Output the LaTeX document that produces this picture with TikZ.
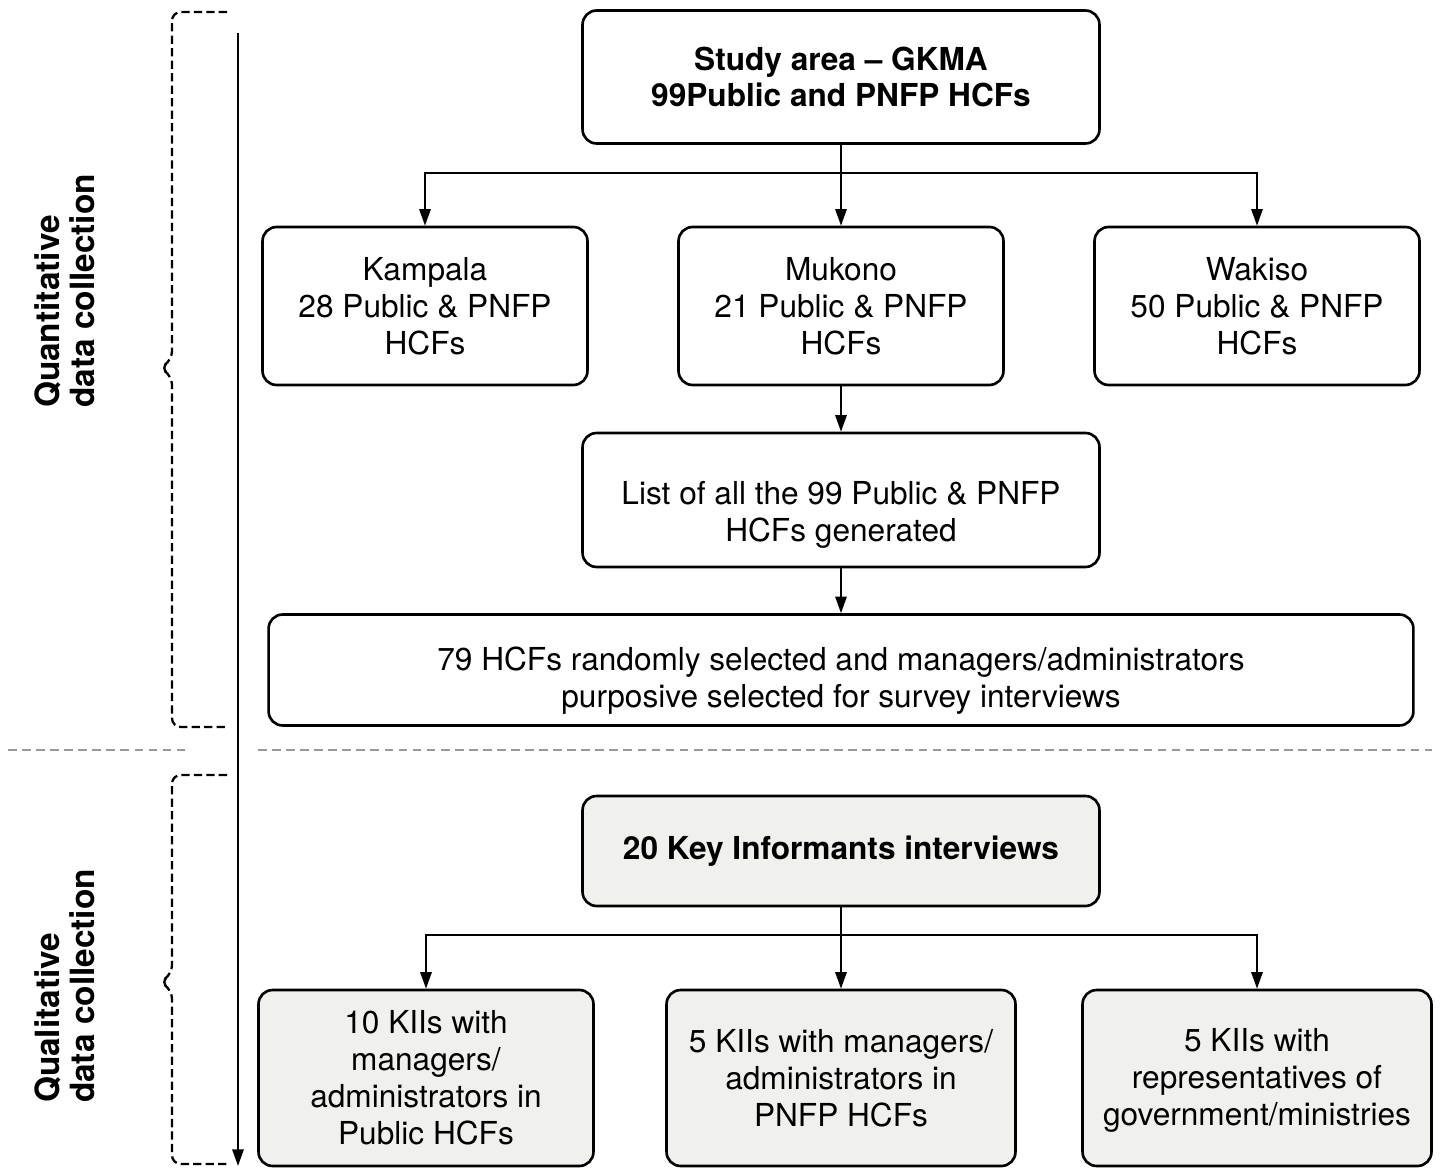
\documentclass[tikz,border=0pt]{standalone}
\usepackage{fontspec}
\setmainfont{TeX Gyre Heros}
\usetikzlibrary{arrows.meta,positioning}
\definecolor{boxgray}{RGB}{240,240,238}
\newcommand{\boxfont}{\fontsize{18}{21}\selectfont}

\begin{document}
\begin{tikzpicture}[x=0.02cm, y=0.02cm]
\tikzstyle{every node}+=[inner sep=0pt]
\tikzstyle{box}=[draw=black, line width=1.5pt, rounded corners=8pt, align=center, font=\boxfont]
\tikzstyle{kii}=[box, fill=boxgray]
\tikzstyle{link}=[black, line width=1.1pt, -{Triangle[length=9.5pt,width=6.5pt]}]
\tikzstyle{brk}=[black, line width=1.3pt, dash pattern=on 4.7pt off 2.4pt, rounded corners=5pt]
\tikzstyle{sep}=[black!40, line width=1.3pt, dash pattern=on 5pt off 3pt]
\tikzstyle{side}=[rotate=90, align=left, font=\fontsize{19}{20}\selectfont\bfseries]
\useasboundingbox (0,0) rectangle (1440,-1168);
% quantitative part
\node[box, minimum width=10.34cm, minimum height=2.66cm, font=\boxfont\bfseries] (area) at (841,-77) {Study area -- GKMA\\99Public and PNFP HCFs};
\node[box, minimum width=6.5cm, minimum height=3.16cm] (kampala) at (425,-306) {Kampala\\28 Public \& PNFP\\HCFs};
\node[box, minimum width=6.5cm, minimum height=3.16cm] (mukono) at (841,-306) {Mukono\\21 Public \& PNFP\\HCFs};
\node[box, minimum width=6.5cm, minimum height=3.16cm] (wakiso) at (1257,-306) {Wakiso\\50 Public \& PNFP\\HCFs};
\node[box, minimum width=10.34cm, minimum height=2.68cm] (list) at (841,-500) {\rule{0pt}{30pt}List of all the 99 Public \& PNFP\\HCFs generated};
\node[box, minimum width=22.9cm, minimum height=2.22cm] (survey) at (841,-670) {\rule{0pt}{26pt}79 HCFs randomly selected and managers/administrators\\purposive selected for survey interviews};
% qualitative part
\node[kii, minimum width=10.34cm, minimum height=2.2cm, font=\boxfont\bfseries] (ki) at (841,-851) {20 Key Informants interviews};
\node[kii, minimum width=6.7cm, minimum height=3.52cm] (kiipublic) at (426,-1078) {10 KIIs with\\managers/\\administrators in\\Public HCFs};
\node[kii, minimum width=6.98cm, minimum height=3.52cm] (kiipnfp) at (841,-1078) {5 KIIs with managers/\\administrators in\\PNFP HCFs};
\node[kii, minimum width=6.98cm, minimum height=3.52cm] (kiigov) at (1257,-1078) {\rule{0pt}{16pt}5 KIIs with\\representatives of\\government/ministries};
% side labels
\node[side] (quant) at (65,-291) {Quantitative\\data collection};
\node[side] (qual) at (65,-986) {Qualitative\\data collection};
% connectors
\coordinate (split1) at (841,-173);
\coordinate (split2) at (841,-935);
\draw[link] (area) -- (mukono);
\draw[link] (split1) -| (kampala);
\draw[link] (split1) -| (wakiso);
\draw[link] (mukono) -- (list);
\draw[link] (list) -- (survey);
\draw[link] (ki) -- (kiipnfp);
\draw[link] (split2) -| (kiipublic);
\draw[link] (split2) -| (kiigov);
% time line
\coordinate (tstart) at (238,-33);
\coordinate (tend) at (238,-1166);
\draw[link] (tstart) -- (tend);
% brackets
\draw[brk] (227,-12) -| (172,-360) -- (160,-368) -- (172,-376) |- (227,-727);
\draw[brk] (227,-775) -| (172,-974) -- (160,-982) -- (172,-990) |- (227,-1164);
% separator
\draw[sep] (8,-750) -- (187,-750);
\draw[sep] (258,-750) -- (1432,-750);
\end{tikzpicture}
\end{document}
